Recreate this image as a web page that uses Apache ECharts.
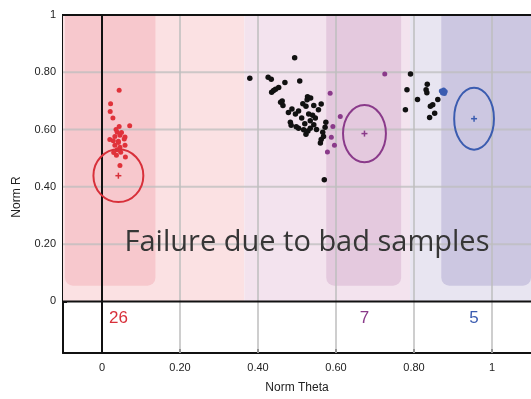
<!DOCTYPE html>
<html>
<head>
<meta charset="utf-8">
<script src="https://cdn.jsdelivr.net/npm/echarts@6/dist/echarts.min.js"></script>
<style>html,body{margin:0;padding:0;background:#fff}#c{width:531px;height:399px}</style>
</head>
<body>
<div id="c"></div>
<script>
// ---- data ----
const xTicks = [0, 0.2, 0.4, 0.6, 0.8, 1];
const yTicks = [0, 0.2, 0.4, 0.6, 0.8, 1];
const gridX = [0.2, 0.4, 0.6, 0.8, 1];
const gridY = [0.2, 0.4, 0.6, 0.8];

const redPoints = [[0.044,0.737],[0.022,0.690],[0.021,0.663],[0.028,0.640],[0.044,0.611],[0.071,0.613],[0.039,0.591],[0.059,0.574],[0.046,0.580],[0.033,0.576],[0.020,0.565],[0.029,0.561],[0.042,0.559],[0.057,0.567],[0.033,0.545],[0.046,0.538],[0.059,0.545],[0.039,0.530],[0.048,0.521],[0.037,0.510],[0.030,0.520],[0.060,0.504],[0.046,0.475],[0.042,0.555],[0.036,0.600],[0.050,0.590]];
const blackMidPoints = [[0.494,0.851],[0.379,0.779],[0.426,0.783],[0.434,0.776],[0.469,0.764],[0.507,0.770],[0.453,0.747],[0.445,0.741],[0.435,0.730],[0.440,0.736],[0.462,0.700],[0.464,0.684],[0.527,0.715],[0.526,0.704],[0.487,0.672],[0.504,0.665],[0.496,0.654],[0.523,0.681],[0.543,0.684],[0.562,0.689],[0.555,0.669],[0.530,0.654],[0.547,0.640],[0.534,0.631],[0.483,0.626],[0.485,0.615],[0.504,0.605],[0.517,0.599],[0.523,0.584],[0.534,0.605],[0.543,0.617],[0.574,0.626],[0.572,0.608],[0.566,0.591],[0.562,0.565],[0.568,0.576],[0.560,0.553],[0.570,0.425],[0.512,0.640],[0.520,0.620],[0.498,0.610],[0.540,0.650],[0.528,0.595],[0.478,0.660],[0.458,0.695],[0.550,0.600],[0.515,0.690],[0.535,0.710]];
const blackRightPoints = [[0.791,0.794],[0.782,0.739],[0.834,0.758],[0.831,0.739],[0.833,0.729],[0.809,0.705],[0.861,0.705],[0.848,0.687],[0.842,0.681],[0.778,0.669],[0.853,0.657],[0.840,0.642]];
const purplePoints = [[0.725,0.794],[0.585,0.727],[0.611,0.646],[0.592,0.611],[0.588,0.573],[0.596,0.545],[0.578,0.522]];
const bluePoints = [[0.870,0.735],[0.876,0.738],[0.880,0.733],[0.873,0.728],[0.878,0.726]];

// cluster summaries: centre theta, centre R, radius theta, radius R, count
const clusterNames = ['red', 'purple', 'blue'];
const clusterCenterTheta = [0.042, 0.673, 0.954];
const clusterCenterR = [0.439, 0.586, 0.638];
const clusterRadiusTheta = [0.064, 0.055, 0.051];
const clusterRadiusR = [0.092, 0.100, 0.108];
const clusterCounts = [26, 7, 5];
const clusterColors = ['#d8303a', '#8a3a8a', '#3b5cb0'];

// background zones: theta from, theta to, R from, R to
const zoneFrom = [-0.1, 0.365, 0.79, -0.095, 0.575, 0.87];
const zoneTo = [0.365, 0.79, 1.1, 0.137, 0.767, 1.1];
const zoneRFrom = [0, 0, 0, 0.055, 0.055, 0.055];
const zoneRTo = [1, 1, 1, 1, 1, 1];
const zoneColors = ['#fbe1e3', '#f3e3ee', '#e8e5f1', '#f7c8cd', '#e4c9de', '#ccc7e1'];
const zoneRound = [0, 0, 0, 1, 1, 1];

const X_MIN = -0.1, X_MAX = 1.1, Y_MIN = -0.18, Y_MAX = 1;

function fmt(v) {
  if (Math.abs(v) < 1e-9) return '0';
  if (Math.abs(v - 1) < 1e-9) return '1';
  return v.toFixed(2);
}

const chart = echarts.init(document.getElementById('c'), null, {renderer: 'canvas'});

const zoneData = zoneFrom.map((f, i) => [f, zoneRFrom[i], zoneTo[i], zoneRTo[i], i]);
const clusterData = clusterNames.map((n, i) => [clusterCenterTheta[i], clusterCenterR[i], clusterRadiusTheta[i], clusterRadiusR[i], i]);
const FONT = 'Liberation Sans, Arial, sans-serif';

const option = {
  animation: false,
  grid: {left: 63, right: -3, top: 15, bottom: 44, show: false},
  xAxis: {
    type: 'value', min: X_MIN, max: X_MAX,
    splitLine: {show: false},
    axisLine: {show: true, onZero: false, lineStyle: {color: '#111', width: 2}},
    axisTick: {show: true, inside: true, length: 4, customValues: xTicks, lineStyle: {color: '#111', width: 2}},
    axisLabel: {customValues: xTicks, formatter: fmt, color: '#222', fontSize: 11, margin: 9, fontFamily: FONT},
    name: 'Norm Theta', nameLocation: 'middle', nameGap: 29,
    nameTextStyle: {color: '#222', fontSize: 12, fontFamily: FONT}
  },
  yAxis: {
    type: 'value', min: Y_MIN, max: Y_MAX,
    splitLine: {show: false},
    axisLine: {show: true, onZero: false, lineStyle: {color: '#111', width: 2}},
    axisTick: {show: true, inside: true, length: 4, customValues: yTicks, lineStyle: {color: '#111', width: 2}},
    axisLabel: {customValues: yTicks, formatter: fmt, color: '#222', fontSize: 11, margin: 7, fontFamily: FONT}
  },
  graphic: [
    {type: 'text', x: 17, y: 197, rotation: Math.PI / 2, style: {text: 'Norm R', fill: '#222', font: '12px "Liberation Sans", Arial, sans-serif', align: 'center', verticalAlign: 'middle'}, z: 100},
    {type: 'text', x: 307, y: 243, style: {text: 'Failure due to bad samples', fill: '#363636', font: '29px "Open Sans", sans-serif', align: 'center', verticalAlign: 'middle'}, z: 100}
  ],
  series: [
    {
      type: 'custom', z: 1, silent: true, clip: false,
      data: zoneData,
      renderItem: function (params, api) {
        const p0 = api.coord([api.value(0), api.value(3)]);
        const p1 = api.coord([api.value(2), api.value(1)]);
        const i = api.value(4);
        return {
          type: 'rect',
          shape: {x: p0[0], y: p0[1], width: p1[0] - p0[0], height: p1[1] - p0[1], r: zoneRound[i] ? [0, 0, 8, 8] : 0},
          style: {fill: zoneColors[i]}
        };
      }
    },
    {
      type: 'custom', z: 2, silent: true,
      data: gridX.map(v => [v, 0]),
      renderItem: function (params, api) {
        const a = api.coord([api.value(0), Y_MIN]);
        const b = api.coord([api.value(0), Y_MAX]);
        return {type: 'line', shape: {x1: a[0], y1: a[1], x2: b[0], y2: b[1]}, style: {stroke: 'rgba(190,190,190,0.75)', lineWidth: 2}};
      }
    },
    {
      type: 'custom', z: 2, silent: true,
      data: gridY.map(v => [0, v]),
      renderItem: function (params, api) {
        const a = api.coord([X_MIN, api.value(1)]);
        const b = api.coord([X_MAX, api.value(1)]);
        return {type: 'line', shape: {x1: a[0], y1: a[1], x2: b[0], y2: b[1]}, style: {stroke: 'rgba(190,190,190,0.75)', lineWidth: 2}};
      }
    },
    {
      type: 'custom', z: 3, silent: true, clip: false,
      data: [[0, 0]],
      renderItem: function (params, api) {
        const v0 = api.coord([0, Y_MIN]), v1 = api.coord([0, Y_MAX]);
        const h0 = api.coord([X_MIN, 0]), h1 = api.coord([X_MAX, 0]);
        const t0 = api.coord([X_MIN, Y_MAX]), t1 = api.coord([X_MAX, Y_MAX]);
        return {type: 'group', children: [
          {type: 'line', shape: {x1: v0[0], y1: v0[1], x2: v1[0], y2: v1[1]}, style: {stroke: '#111', lineWidth: 2}},
          {type: 'line', shape: {x1: h0[0], y1: h0[1], x2: h1[0], y2: h1[1]}, style: {stroke: '#111', lineWidth: 2}},
          {type: 'line', shape: {x1: t0[0] - 1, y1: t0[1], x2: t1[0], y2: t1[1]}, style: {stroke: '#111', lineWidth: 2}}
        ]};
      }
    },
    {type: 'scatter', z: 5, data: redPoints, symbolSize: 5, itemStyle: {color: '#e0323a', opacity: 1}},
    {type: 'scatter', z: 5, data: blackMidPoints, symbolSize: 5.5, itemStyle: {color: '#111', opacity: 1}},
    {type: 'scatter', z: 5, data: blackRightPoints, symbolSize: 5.5, itemStyle: {color: '#111', opacity: 1}},
    {type: 'scatter', z: 5, data: purplePoints, symbolSize: 5, itemStyle: {color: '#8a3a8a', opacity: 1}},
    {type: 'scatter', z: 5, data: bluePoints, symbolSize: 5, itemStyle: {color: '#3b5cb0', opacity: 1}},
    {
      type: 'custom', z: 6, silent: true, clip: false,
      data: clusterData,
      renderItem: function (params, api) {
        const c = api.coord([api.value(0), api.value(1)]);
        const s = api.size([api.value(2), api.value(3)]);
        const i = api.value(4);
        const col = clusterColors[i];
        const lbl = api.coord([api.value(0), -0.058]);
        return {type: 'group', children: [
          {type: 'ellipse', shape: {cx: c[0], cy: c[1], rx: s[0], ry: s[1]}, style: {fill: 'none', stroke: col, lineWidth: 2}},
          {type: 'line', shape: {x1: c[0] - 3, y1: c[1], x2: c[0] + 3, y2: c[1]}, style: {stroke: col, lineWidth: 1.5}},
          {type: 'line', shape: {x1: c[0], y1: c[1] - 3, x2: c[0], y2: c[1] + 3}, style: {stroke: col, lineWidth: 1.5}},
          {type: 'text', x: lbl[0], y: lbl[1], style: {text: String(clusterCounts[i]), fill: col, font: '17px "Liberation Sans", Arial, sans-serif', align: 'center', verticalAlign: 'middle'}}
        ]};
      }
    }
  ]
};
chart.setOption(option);
</script>
</body>
</html>
